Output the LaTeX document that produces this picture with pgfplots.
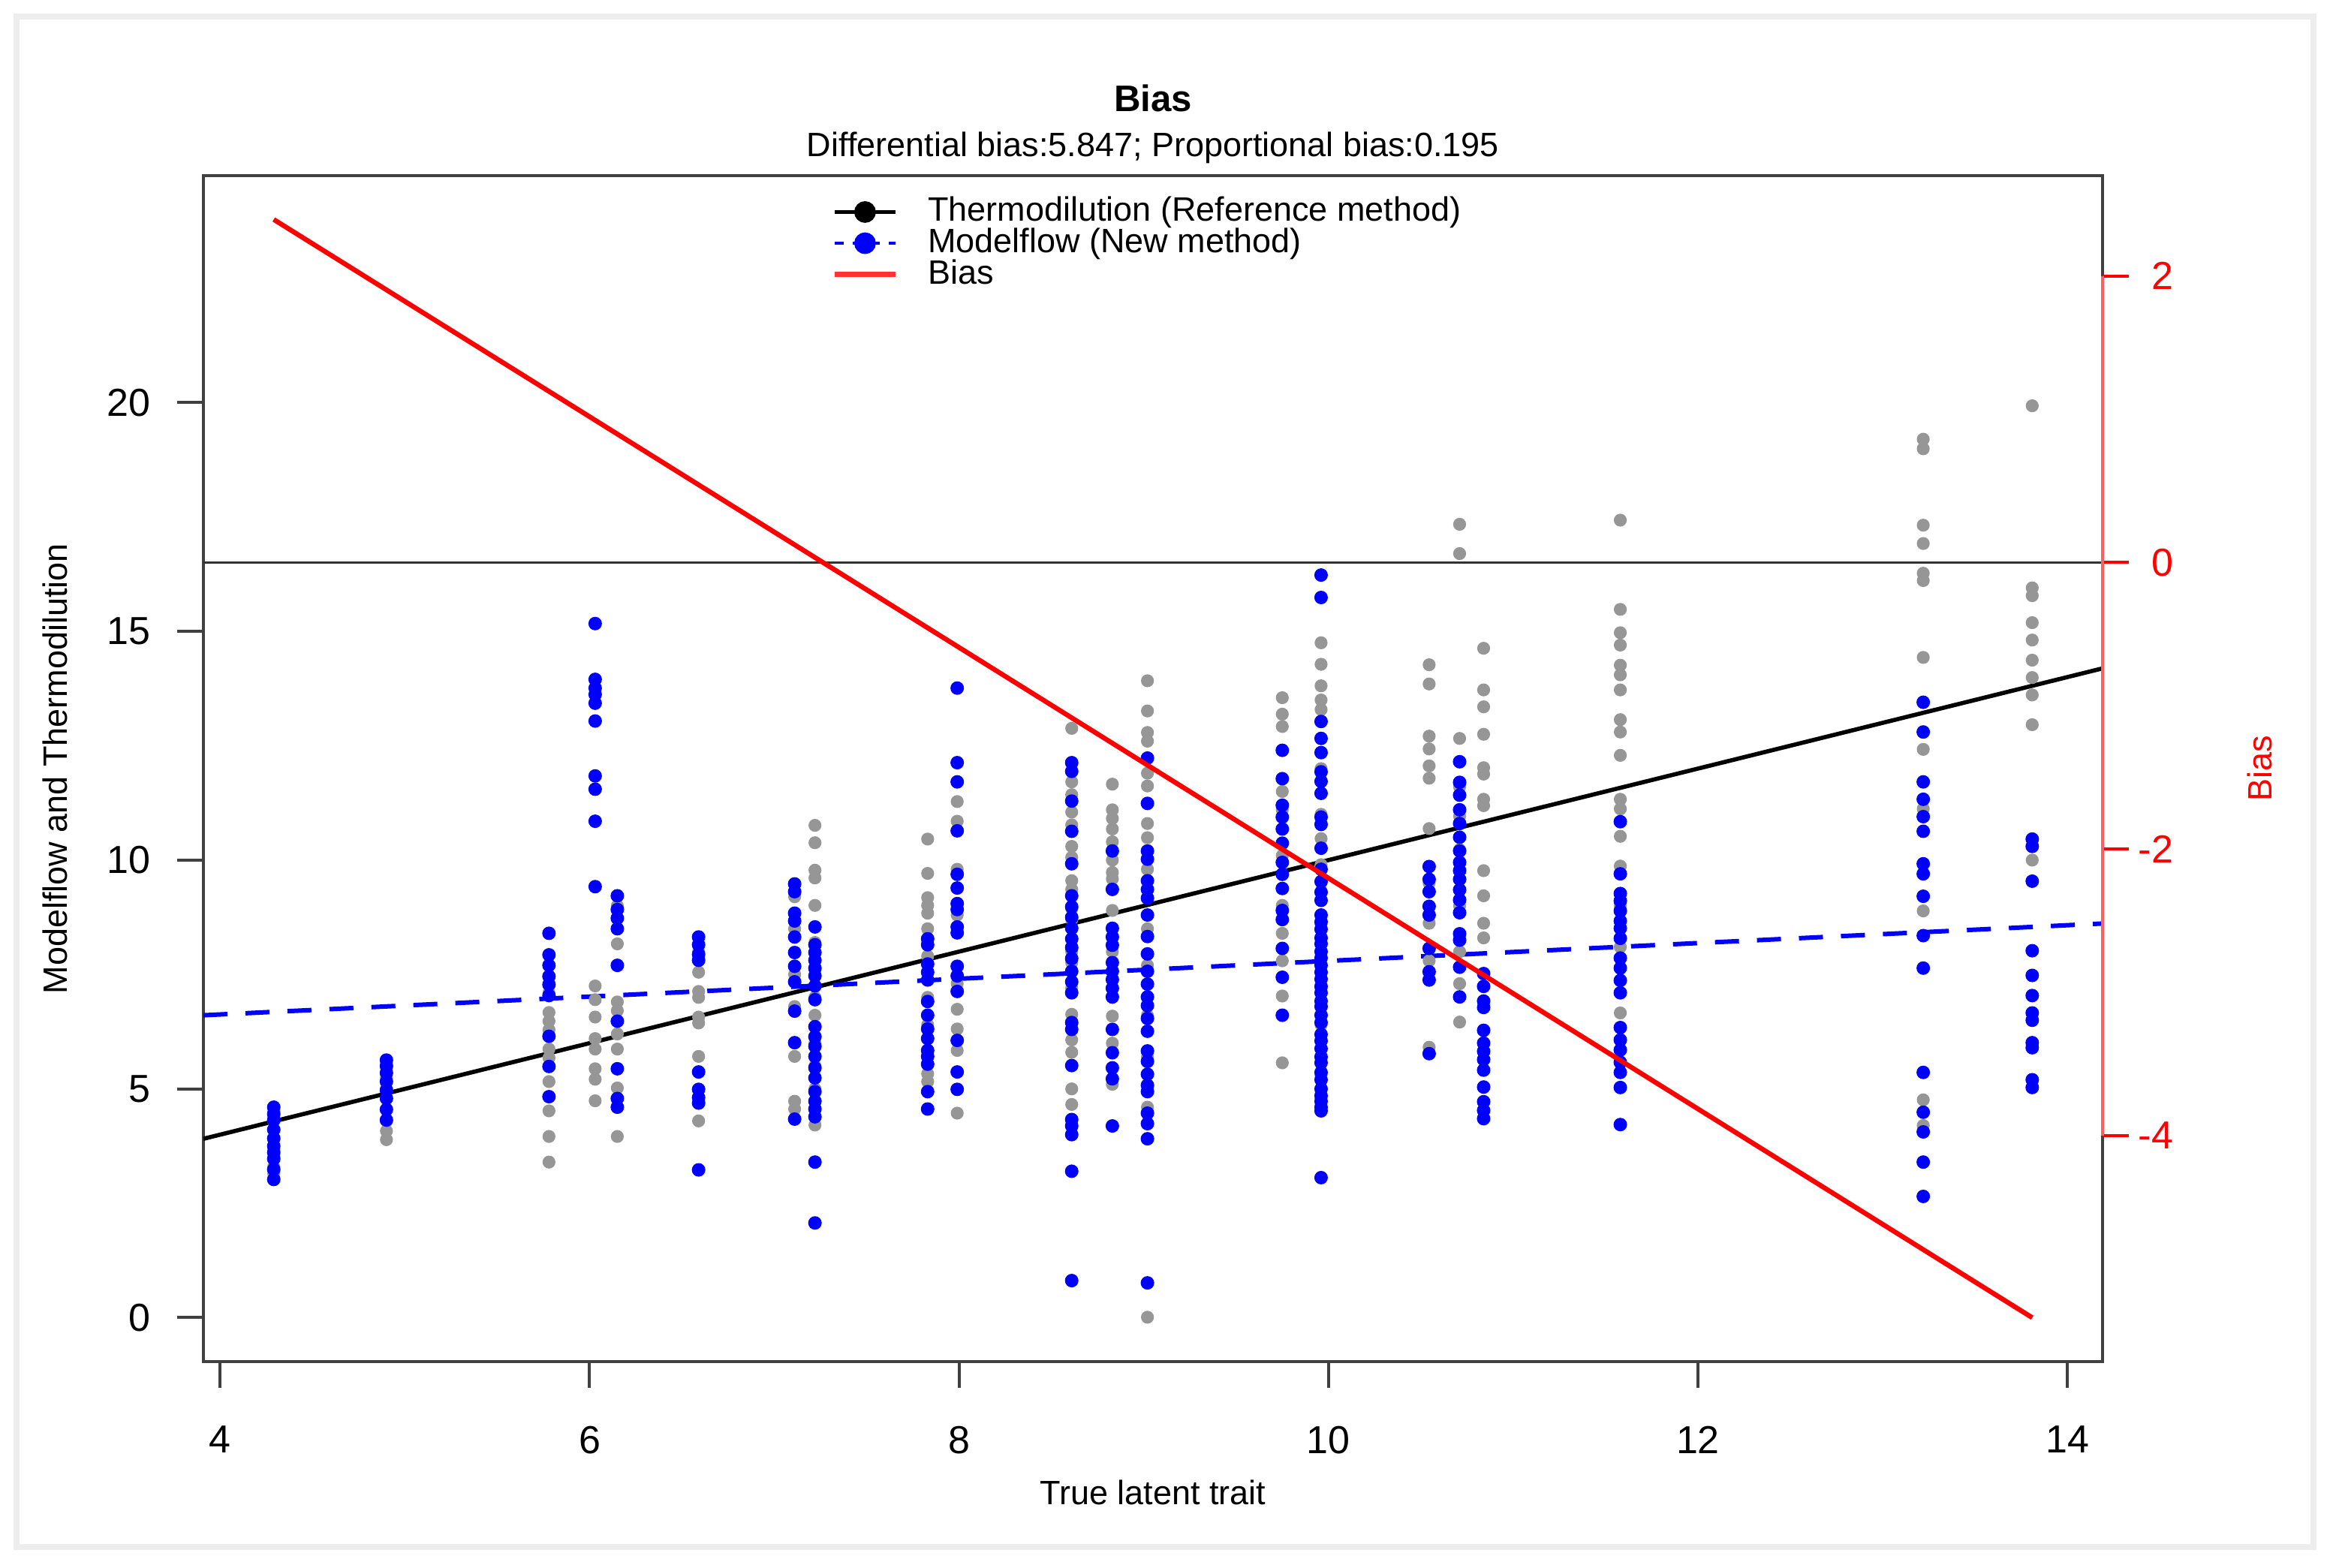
\documentclass[border=0pt]{standalone}
\usepackage{fontspec}
\setmainfont{Liberation Sans}
\usepackage{pgfplots}
\pgfplotsset{compat=1.18}
\definecolor{ptgray}{RGB}{150,150,150}
\definecolor{ptblue}{RGB}{0,0,255}
\definecolor{spinered}{RGB}{255,95,95}
\begin{document}
\begin{tikzpicture}
\path[use as bounding box] (0,0) rectangle (777pt,522.25pt);
\draw[line width=2pt, black!7] (5.5pt,7pt) rectangle (770.5pt,516.75pt);
\begin{axis}[
  at={(67.75pt,68.75pt)}, anchor=south west,
  scale only axis, width=632.5pt, height=395pt,
  xmin=3.9092, xmax=14.1908, ymin=-0.96, ymax=24.96,
  axis line style={black!75, line width=1pt},
  every tick/.style={black!75, line width=1pt},
  tick align=outside, major tick length=8.75pt,
  xtick={4,6,8,10,12,14}, xticklabels={4,6,8,10,12,14},
  ytick={0,5,10,15,20}, yticklabels={0,5,10,15,20},
  xtick pos=lower, ytick pos=left,
  tick label style={font=\fontsize{13}{15}\selectfont, inner sep=0pt},
  xticklabel style={anchor=north}, xticklabel shift=12.6pt,
  yticklabel style={anchor=east}, yticklabel shift=8.75pt,
  title={Bias},
  title style={at={(axis description cs:0.5,1.0652)}, anchor=center, yshift=-6pt, font=\fontsize{12.3}{14}\selectfont\bfseries, inner sep=0pt},
  xlabel={True latent trait},
  xlabel style={at={(axis description cs:0.5,-0.1101)}, anchor=center, font=\fontsize{11.25}{13}\selectfont, inner sep=0pt},
  ylabel={Modelflow and Thermodilution},
  ylabel style={at={(axis description cs:-0.07826,0.5)}, anchor=center, font=\fontsize{11.25}{13}\selectfont, inner sep=0pt},
  extra description/.code={\node[font=\fontsize{11.25}{13}\selectfont, inner sep=0pt, anchor=center] at (axis description cs:0.5,1.0235) {Differential bias:5.847; Proportional bias:0.195};},
  legend style={at={(axis description cs:0.3308,0.983)}, anchor=north west, draw=none, fill=none,
    font=\fontsize{11.25}{13}\selectfont, inner sep=0pt, row sep=0pt,
    nodes={inner sep=0pt, text height=8.3pt, text depth=2.1pt, anchor=west},
    /tikz/every odd column/.append style={column sep=10pt}},
  legend cell align=left,
  legend image code/.code={\draw[mark repeat=2, mark phase=2, #1] plot coordinates {(0pt,0pt) (10.125pt,0pt) (20.25pt,0pt)};},
  clip=true,
]
% Thermodilution (reference method) measurements
\addplot[only marks, mark=*, mark size=1.95pt, color=ptgray, forget plot] coordinates {
(4.29,4.5)(4.29,4.3)(4.29,4.1)(4.29,3.9)(4.29,3.7)(4.29,3.5)(4.29,3.3)(4.29,3.15)
(4.90,5.5)(4.90,5.25)(4.90,5.0)(4.90,4.8)(4.90,4.55)(4.90,4.3)(4.90,4.08)(4.90,3.89)
(5.78,7.1)(5.78,6.67)(5.78,6.48)(5.78,6.29)(5.78,5.87)(5.78,5.68)(5.78,5.16)(5.78,4.52)(5.78,3.96)(5.78,3.40)
(6.03,7.25)(6.03,6.95)(6.03,6.57)(6.03,6.10)(6.03,5.87)(6.03,5.44)(6.03,5.21)(6.03,4.74)
(6.15,9.0)(6.15,8.17)(6.15,7.7)(6.15,6.90)(6.15,6.71)(6.15,6.20)(6.15,5.87)(6.15,5.02)(6.15,3.96)
(6.59,8.0)(6.59,7.55)(6.59,7.13)(6.59,7.00)(6.59,6.57)(6.59,6.44)(6.59,5.71)(6.59,4.30)
(7.11,9.2)(7.11,8.5)(7.11,7.5)(7.11,6.8)(7.11,5.71)(7.11,4.73)(7.11,4.56)
(7.22,10.76)(7.22,10.38)(7.22,9.78)(7.22,9.61)(7.22,9.01)(7.22,8.2)(7.22,7.6)(7.22,7.0)(7.22,6.61)(7.22,6.0)(7.22,5.5)(7.22,5.0)(7.22,4.21)
(7.83,10.46)(7.83,9.71)(7.83,9.18)(7.83,9.01)(7.83,8.84)(7.83,8.50)(7.83,7.9)(7.83,7.0)(7.83,6.4)(7.83,5.33)(7.83,5.16)
(7.99,11.28)(7.99,10.85)(7.99,9.8)(7.99,8.8)(7.99,7.3)(7.99,6.74)(7.99,6.31)(7.99,5.84)(7.99,4.47)
(8.61,12.88)(8.61,11.71)(8.61,11.43)(8.61,11.05)(8.61,10.77)(8.61,10.30)(8.61,10.06)(8.61,9.55)(8.61,9.36)(8.61,8.94)(8.61,8.70)(8.61,8.0)(8.61,7.76)(8.61,7.2)(8.61,6.63)(8.61,6.07)(8.61,5.8)(8.61,5.0)(8.61,4.66)
(8.83,11.66)(8.83,11.10)(8.83,10.91)(8.83,10.68)(8.83,10.4)(8.83,10.0)(8.83,9.73)(8.83,9.59)(8.83,8.9)(8.83,8.0)(8.83,7.0)(8.83,6.59)(8.83,6.0)(8.83,5.1)
(9.02,13.92)(9.02,13.26)(9.02,12.79)(9.02,12.60)(9.02,11.90)(9.02,11.62)(9.02,10.8)(9.02,10.49)(9.02,9.8)(9.02,8.5)(9.02,7.7)(9.02,6.6)(9.02,5.7)(9.02,4.6)(9.02,0.01)
(9.75,13.55)(9.75,13.19)(9.75,12.92)(9.75,11.5)(9.75,11.10)(9.75,10.1)(9.75,9.01)(9.75,8.4)(9.75,7.8)(9.75,7.03)(9.75,5.57)
(9.96,14.75)(9.96,14.28)(9.96,13.81)(9.96,13.50)(9.96,13.29)(9.96,12.0)(9.96,11.0)(9.96,10.47)(9.96,9.9)(9.96,9.3)(9.96,8.6)(9.96,7.2)(9.96,6.4)(9.96,5.3)(9.96,4.8)
(10.545,14.27)(10.545,13.85)(10.545,12.71)(10.545,12.43)(10.545,12.06)(10.545,11.79)(10.545,10.69)(10.545,9.5)(10.545,8.62)(10.545,7.8)(10.545,5.91)
(10.71,17.34)(10.71,16.70)(10.71,12.66)(10.71,11.6)(10.71,10.96)(10.71,10.23)(10.71,9.0)(10.71,8.0)(10.71,7.3)(10.71,6.46)
(10.84,14.63)(10.84,13.72)(10.84,13.35)(10.84,12.75)(10.84,12.02)(10.84,11.88)(10.84,11.33)(10.84,11.19)(10.84,9.77)(10.84,9.22)(10.84,8.62)(10.84,8.30)
(11.58,17.43)(11.58,15.48)(11.58,14.97)(11.58,14.70)(11.58,14.26)(11.58,14.05)(11.58,13.72)(11.58,13.07)(11.58,12.80)(11.58,12.29)(11.58,11.33)(11.58,11.12)(11.58,10.52)(11.58,9.87)(11.58,9.0)(11.58,8.1)(11.58,6.66)
(13.22,19.20)(13.22,18.99)(13.22,17.32)(13.22,16.92)(13.22,16.27)(13.22,16.11)(13.22,14.43)(13.22,12.42)(13.22,11.12)(13.22,8.89)(13.22,4.76)(13.22,4.2)
(13.81,19.93)(13.81,15.95)(13.81,15.78)(13.81,15.19)(13.81,14.81)(13.81,14.37)(13.81,13.99)(13.81,13.61)(13.81,12.96)(13.81,10.0)
};
% Modelflow (new method) measurements
\addplot[only marks, mark=*, mark size=2.05pt, color=ptblue, forget plot] coordinates {
(4.29,4.60)(4.29,4.45)(4.29,4.32)(4.29,4.11)(4.29,3.92)(4.29,3.75)(4.29,3.61)(4.29,3.47)(4.29,3.24)(4.29,3.02)
(4.90,5.63)(4.90,5.50)(4.90,5.35)(4.90,5.16)(4.90,4.97)(4.90,4.79)(4.90,4.55)(4.90,4.32)
(5.78,8.40)(5.78,7.93)(5.78,7.70)(5.78,7.46)(5.78,7.28)(5.78,7.04)(5.78,6.15)(5.78,5.49)(5.78,4.83)
(6.03,15.17)(6.03,13.95)(6.03,13.76)(6.03,13.62)(6.03,13.43)(6.03,13.04)(6.03,11.84)(6.03,11.55)(6.03,10.85)(6.03,9.42)
(6.15,9.22)(6.15,8.92)(6.15,8.73)(6.15,8.50)(6.15,7.70)(6.15,6.48)(6.15,5.44)(6.15,4.79)(6.15,4.60)
(6.59,8.32)(6.59,8.15)(6.59,7.94)(6.59,7.81)(6.59,5.37)(6.59,4.99)(6.59,4.81)(6.59,4.69)(6.59,3.23)
(7.11,9.48)(7.11,9.31)(7.11,8.84)(7.11,8.67)(7.11,8.32)(7.11,7.98)(7.11,7.68)(7.11,7.34)(7.11,6.70)(7.11,6.01)(7.11,4.34)
(7.22,8.54)(7.22,8.15)(7.22,7.98)(7.22,7.81)(7.22,7.64)(7.22,7.47)(7.22,7.25)(7.22,6.95)(7.22,6.36)(7.22,6.14)(7.22,5.93)(7.22,5.71)(7.22,5.46)(7.22,5.24)(7.22,4.94)(7.22,4.73)(7.22,4.56)(7.22,4.39)(7.22,3.40)(7.22,2.07)
(7.83,8.28)(7.83,8.15)(7.83,7.73)(7.83,7.55)(7.83,7.38)(7.83,6.91)(7.83,6.61)(7.83,6.31)(7.83,6.10)(7.83,5.84)(7.83,5.71)(7.83,5.54)(7.83,4.94)(7.83,4.56)
(7.99,13.76)(7.99,12.13)(7.99,11.71)(7.99,10.64)(7.99,9.69)(7.99,9.39)(7.99,9.05)(7.99,8.92)(7.99,8.54)(7.99,8.41)(7.99,7.68)(7.99,7.47)(7.99,7.13)(7.99,6.06)(7.99,5.37)(7.99,4.99)
(8.61,12.13)(8.61,11.94)(8.61,11.29)(8.61,10.63)(8.61,9.92)(8.61,9.22)(8.61,8.98)(8.61,8.75)(8.61,8.51)(8.61,8.28)(8.61,8.09)(8.61,7.85)(8.61,7.57)(8.61,7.34)(8.61,7.10)(8.61,6.45)(8.61,6.30)(8.61,5.51)(8.61,4.33)(8.61,4.19)(8.61,4.00)(8.61,3.20)(8.61,0.81)
(8.83,10.20)(8.83,9.36)(8.83,8.51)(8.83,8.32)(8.83,8.14)(8.83,7.76)(8.83,7.57)(8.83,7.39)(8.83,7.20)(8.83,7.01)(8.83,6.30)(8.83,5.79)(8.83,5.46)(8.83,5.22)(8.83,4.19)
(9.02,12.23)(9.02,11.24)(9.02,10.20)(9.02,10.02)(9.02,9.55)(9.02,9.36)(9.02,9.17)(9.02,8.80)(9.02,8.33)(9.02,7.95)(9.02,7.57)(9.02,7.29)(9.02,7.01)(9.02,6.82)(9.02,6.54)(9.02,6.26)(9.02,5.83)(9.02,5.60)(9.02,5.32)(9.02,5.08)(9.02,4.94)(9.02,4.47)(9.02,4.24)(9.02,3.91)(9.02,0.76)
(9.75,12.40)(9.75,11.78)(9.75,11.20)(9.75,10.94)(9.75,10.68)(9.75,10.37)(9.75,9.95)(9.75,9.69)(9.75,9.38)(9.75,8.90)(9.75,8.70)(9.75,8.07)(9.75,7.44)(9.75,6.61)
(9.96,16.23)(9.96,15.74)(9.96,13.03)(9.96,12.66)(9.96,12.35)(9.96,11.93)(9.96,11.72)(9.96,11.46)(9.96,10.94)(9.96,10.78)(9.96,10.26)(9.96,9.80)(9.96,9.53)(9.96,9.30)(9.96,9.12)(9.96,8.80)(9.96,8.65)(9.96,8.49)(9.96,8.30)(9.96,8.17)(9.96,8.00)(9.96,7.86)(9.96,7.70)(9.96,7.55)(9.96,7.40)(9.96,7.24)(9.96,7.10)(9.96,6.92)(9.96,6.80)(9.96,6.61)(9.96,6.45)(9.96,6.19)(9.96,6.05)(9.96,5.88)(9.96,5.70)(9.96,5.57)(9.96,5.36)(9.96,5.20)(9.96,5.00)(9.96,4.85)(9.96,4.73)(9.96,4.60)(9.96,4.52)(9.96,3.06)
(10.545,9.86)(10.545,9.58)(10.545,9.31)(10.545,8.99)(10.545,8.80)(10.545,8.07)(10.545,7.56)(10.545,7.38)(10.545,5.77)
(10.71,12.15)(10.71,11.70)(10.71,11.42)(10.71,11.10)(10.71,10.80)(10.71,10.50)(10.71,10.20)(10.71,9.95)(10.71,9.77)(10.71,9.58)(10.71,9.35)(10.71,9.13)(10.71,8.85)(10.71,8.39)(10.71,8.25)(10.71,7.66)(10.71,7.01)
(10.84,7.52)(10.84,7.24)(10.84,6.92)(10.84,6.78)(10.84,6.28)(10.84,6.00)(10.84,5.82)(10.84,5.64)(10.84,5.41)(10.84,5.04)(10.84,4.72)(10.84,4.53)(10.84,4.35)
(11.58,10.84)(11.58,9.70)(11.58,9.27)(11.58,9.11)(11.58,8.89)(11.58,8.67)(11.58,8.51)(11.58,8.29)(11.58,7.86)(11.58,7.64)(11.58,7.37)(11.58,7.10)(11.58,6.34)(11.58,6.07)(11.58,5.85)(11.58,5.58)(11.58,5.36)(11.58,5.03)(11.58,4.22)
(13.22,13.45)(13.22,12.80)(13.22,11.71)(13.22,11.33)(13.22,10.95)(13.22,10.63)(13.22,9.92)(13.22,9.70)(13.22,9.21)(13.22,8.35)(13.22,7.64)(13.22,5.36)(13.22,4.49)(13.22,4.06)(13.22,3.40)(13.22,2.65)
(13.81,10.46)(13.81,10.30)(13.81,9.54)(13.81,8.02)(13.81,7.48)(13.81,7.04)(13.81,6.66)(13.81,6.50)(13.81,6.01)(13.81,5.90)(13.81,5.20)(13.81,5.03)
};
% identity line (thermodilution) and fitted modelflow line
\addplot[black, line width=1.4pt, forget plot] coordinates {(3.9092,3.9092) (14.1908,14.1908)};
\addplot[ptblue, line width=1.5pt, dash pattern=on 8pt off 6pt, forget plot] coordinates {(3.9092,6.6093) (14.1908,8.6142)};
\addlegendimage{black, line width=1.2pt, mark=*, mark size=3pt}
\addlegendentry{Thermodilution (Reference method)}
\addlegendimage{ptblue, line width=1.2pt, dash pattern=on 3pt off 3pt, mark=*, mark size=3pt, mark options={solid}}
\addlegendentry{Modelflow (New method)}
\addlegendimage{red!80, line width=1.6pt}
\addlegendentry{Bias}
\end{axis}
\begin{axis}[
  at={(67.75pt,68.75pt)}, anchor=south west,
  scale only axis, width=632.5pt, height=395pt,
  xmin=3.9092, xmax=14.1908, ymin=-5.5765, ymax=2.6995,
  hide x axis,
  axis line style={draw=none},
  ytick pos=right, yticklabel pos=right,
  tick align=outside, major tick length=8.75pt,
  every tick/.style={red, line width=1pt},
  ytick={-4,-2,0,2}, yticklabels={-4,-2,0,2},
  yticklabel style={font=\fontsize{13}{15}\selectfont, inner sep=0pt, anchor=east, xshift=15pt, text=red},
  ylabel={Bias},
  ylabel style={at={(axis description cs:1.0826,0.5)}, anchor=center, rotate=0, font=\fontsize{11.25}{13}\selectfont, inner sep=0pt, text=red},
  clip=false,
]
\addplot[black!80, line width=0.8pt] coordinates {(3.9092,0) (14.1908,0)};
\addplot[spinered, line width=1.1pt] coordinates {(14.1908,-4) (14.1908,2)};
\addplot[red, line width=1.6pt] coordinates {(4.29,2.3935) (13.81,-5.270)};
\end{axis}
\end{tikzpicture}
\end{document}
